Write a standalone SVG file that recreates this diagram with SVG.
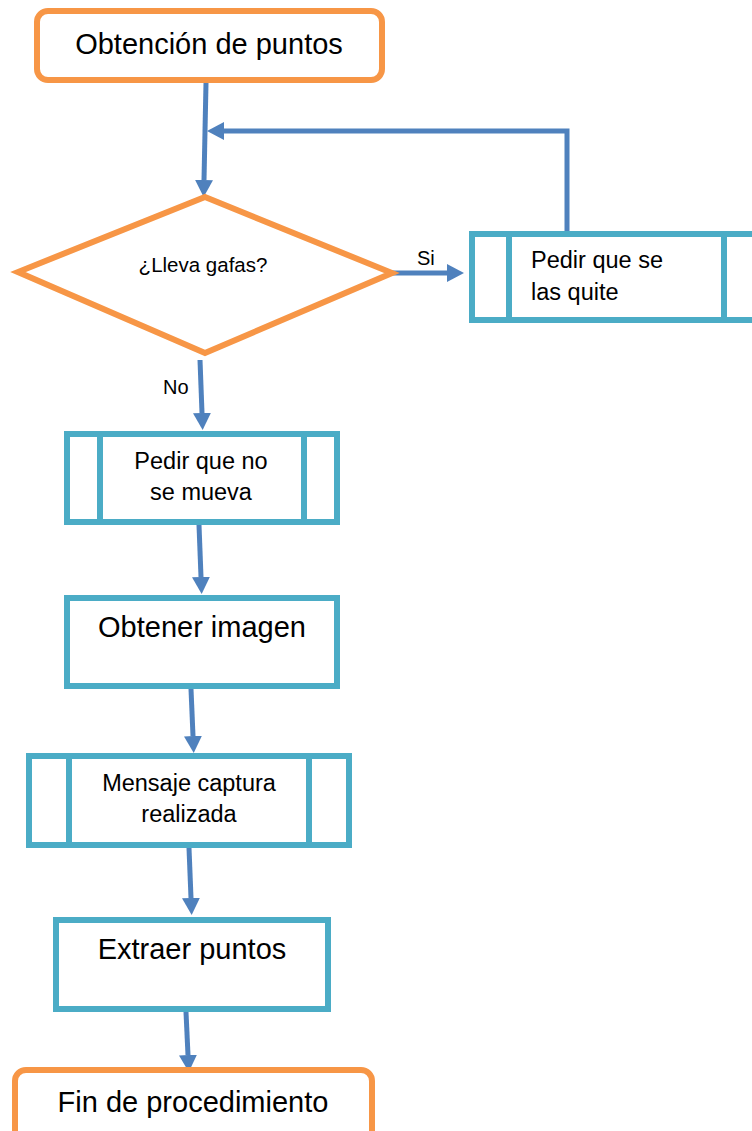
<svg xmlns="http://www.w3.org/2000/svg" width="752" height="1131" viewBox="0 0 752 1131">
  <style>
    .term { fill: #ffffff; stroke: #F79646; stroke-width: 6; }
    .proc { fill: #ffffff; stroke: #4BACC6; stroke-width: 6; }
    .bar { stroke: #4BACC6; stroke-width: 6; }
    .link { fill: none; stroke: #4F81BD; stroke-width: 5; }
    .t { font-family: "Liberation Sans", Arial, sans-serif; fill: #000000; }
    .big { font-size: 29px; text-anchor: middle; }
    .mid { font-size: 23.5px; text-anchor: middle; }
    .lbl { font-size: 20px; }
  </style>
  <defs>
    <marker id="arrow" markerUnits="userSpaceOnUse" markerWidth="18" markerHeight="18" refX="0" refY="9" orient="auto">
      <path d="M0,0 L17,9 L0,18 z" fill="#4F81BD"/>
    </marker>
  </defs>

  <!-- connectors -->
  <g id="connectors">
    <path class="link" d="M206,83 L204,180" marker-end="url(#arrow)"/>
    <path class="link" d="M567,236 L567,131 L224,131" marker-end="url(#arrow)"/>
    <path class="link" d="M392,273 L447,273" marker-end="url(#arrow)"/>
    <path class="link" d="M200,360 L202,413" marker-end="url(#arrow)"/>
    <path class="link" d="M199,525 L201,577" marker-end="url(#arrow)"/>
    <path class="link" d="M191,689 L193,736" marker-end="url(#arrow)"/>
    <path class="link" d="M189,848 L191,898" marker-end="url(#arrow)"/>
    <path class="link" d="M186,1012 L188,1055" marker-end="url(#arrow)"/>
    <text class="t lbl" x="417" y="265">Si</text>
    <text class="t lbl" x="163" y="394">No</text>
  </g>

  <!-- start terminal -->
  <g id="start">
    <rect class="term" x="37" y="11" width="345" height="69" rx="11" ry="11"/>
    <text class="t big" x="209" y="54">Obtención de puntos</text>
  </g>

  <!-- decision -->
  <g id="decision">
    <polygon class="term" points="205,197 392,273 205,353 18,272"/>
    <text class="t" x="203" y="272" font-size="20.5" text-anchor="middle">¿Lleva gafas?</text>
  </g>

  <!-- subprocess: remove glasses -->
  <g id="remove-glasses">
    <rect class="proc" x="472" y="234" width="310" height="86"/>
    <line class="bar" x1="509" y1="234" x2="509" y2="320"/>
    <line class="bar" x1="724" y1="234" x2="724" y2="320"/>
    <text class="t" x="531" y="268" font-size="23.5">Pedir que se</text>
    <text class="t" x="531" y="300" font-size="23.5">las quite</text>
  </g>

  <!-- subprocess: stay still -->
  <g id="stay-still">
    <rect class="proc" x="67" y="434" width="270" height="88"/>
    <line class="bar" x1="100" y1="434" x2="100" y2="522"/>
    <line class="bar" x1="304" y1="434" x2="304" y2="522"/>
    <text class="t mid" x="201" y="469">Pedir que no</text>
    <text class="t mid" x="201" y="500">se mueva</text>
  </g>

  <!-- process: capture image -->
  <g id="capture">
    <rect class="proc" x="67" y="598" width="270" height="88"/>
    <text class="t big" x="202" y="637">Obtener imagen</text>
  </g>

  <!-- subprocess: capture message -->
  <g id="capture-message">
    <rect class="proc" x="29" y="756" width="320" height="89"/>
    <line class="bar" x1="69" y1="756" x2="69" y2="845"/>
    <line class="bar" x1="309" y1="756" x2="309" y2="845"/>
    <text class="t mid" x="189" y="791">Mensaje captura</text>
    <text class="t mid" x="189" y="822">realizada</text>
  </g>

  <!-- process: extract points -->
  <g id="extract">
    <rect class="proc" x="56" y="920" width="272" height="89"/>
    <text class="t big" x="192" y="959">Extraer puntos</text>
  </g>

  <!-- end terminal -->
  <g id="end">
    <rect class="term" x="15" y="1070" width="357" height="80" rx="11" ry="11"/>
    <text class="t big" x="193" y="1112">Fin de procedimiento</text>
  </g>
</svg>
